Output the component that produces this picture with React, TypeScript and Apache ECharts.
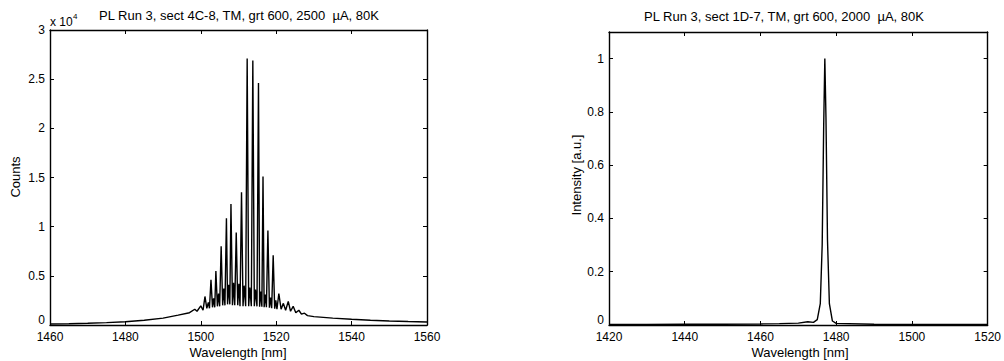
import React, { useEffect, useRef } from "react";
import * as echarts from "echarts";

// ---------- data ----------
const leftTitle = "PL Run 3, sect 4C-8, TM, grt 600, 2500  µA, 80K";
const rightTitle = "PL Run 3, sect 1D-7, TM, grt 600, 2000  µA, 80K";
const xName = "Wavelength [nm]";
const leftYName = "Counts";
const rightYName = "Intensity [a.u.]";

const leftWavelength = [
  1460, 1465, 1470, 1475, 1480, 1485, 1490, 1494, 1497, 1498.4, 1499.0, 1500.0,
  1500.6, 1501.1, 1501.6, 1502.0, 1502.3, 1502.7, 1503.1, 1503.4, 1503.7, 1504.0,
  1504.4, 1504.7, 1505.0, 1505.4, 1505.8, 1506.1, 1506.4, 1506.8, 1507.1, 1507.4,
  1507.7, 1508.0, 1508.4, 1508.7, 1509.0, 1509.4, 1509.8, 1510.1, 1510.4, 1510.8,
  1511.2, 1511.5, 1511.9, 1512.3, 1512.7, 1513.0, 1513.4, 1513.8, 1514.2, 1514.5,
  1514.9, 1515.3, 1515.6, 1515.9, 1516.2, 1516.5, 1516.8, 1517.1, 1517.4, 1517.8,
  1518.2, 1518.5, 1518.8, 1519.2, 1519.6, 1519.9, 1520.2, 1520.7, 1521.3, 1521.9,
  1522.5, 1523.2, 1523.8, 1524.5, 1525.2, 1526.0, 1526.7, 1527.5, 1528.3, 1530,
  1535, 1540, 1545, 1550, 1555, 1560,
];
const leftCounts = [
  100, 130, 180, 240, 330, 480, 700, 1000, 1250, 1600, 1400, 1950,
  1500, 2900, 1700, 2300, 1700, 4600, 1800, 2700, 1800, 5500,
  1900, 3200, 1900, 8000, 2000, 3700, 2000, 10850, 2100, 4100,
  2100, 12300, 2000, 4300, 2000, 9400, 2000, 4200, 1900, 13500,
  1900, 4000, 1900, 27100, 1900, 3800, 1900, 26900, 1900, 3600,
  1900, 24600, 1850, 3400, 1850, 15100, 1800, 3100, 1800, 9600,
  1750, 2800, 1700, 7100, 1650, 2500, 1600, 3200, 1600, 2200,
  1500, 2400, 1400, 1900, 1250, 1500, 1100, 1200, 950, 850,
  700, 580, 480, 410, 350, 300,
];

const rightWavelength = [
  1420, 1430, 1440, 1450, 1460, 1465, 1470, 1472.5, 1474, 1475, 1475.8, 1476.3,
  1476.7, 1477.0, 1477.3, 1477.7, 1478.2, 1479, 1480, 1490, 1500, 1510, 1520,
];
const rightIntensity = [
  0.002, 0.002, 0.003, 0.003, 0.004, 0.005, 0.007, 0.012, 0.01, 0.02, 0.08, 0.3,
  0.75, 1.0, 0.78, 0.32, 0.08, 0.015, 0.006, 0.003, 0.002, 0.002, 0.002,
];

const leftXRange = [1460, 1560];
const rightXRange = [1420, 1520];
const xTickStep = 20;
const leftYRange = [0, 30000];
const leftYStep = 5000;
const rightYRange = [0, 1.1];
const rightYStep = 0.2;

// ---------- chart ----------
const FONT = "'Liberation Sans', Arial, sans-serif";
const BLACK = "#000";

function makeX(gridIndex: number, range: number[], position: "top" | "bottom") {
  return {
    type: "value",
    gridIndex,
    min: range[0],
    max: range[1],
    interval: xTickStep,
    position,
    axisLine: { show: true, onZero: false, lineStyle: { color: BLACK, width: 1.4 } },
    axisTick: { show: true, inside: true, length: 4, lineStyle: { color: BLACK, width: 1 } },
    axisLabel: {
      show: position === "bottom",
      color: BLACK,
      fontFamily: FONT,
      fontSize: 12,
      lineHeight: 12,
      margin: 6,
      formatter: (v: number) => String(v),
    },
    splitLine: { show: false },
  };
}

function makeY(
  gridIndex: number,
  range: number[],
  step: number,
  position: "left" | "right",
  fmt: (v: number) => string
) {
  return {
    type: "value",
    gridIndex,
    min: range[0],
    max: range[1],
    interval: step,
    position,
    axisLine: { show: true, onZero: false, lineStyle: { color: BLACK, width: 1.4 } },
    axisTick: { show: true, inside: true, length: 4, lineStyle: { color: BLACK, width: 1 } },
    axisLabel: {
      show: position === "left",
      color: BLACK,
      fontFamily: FONT,
      fontSize: 12,
      lineHeight: 10,
      margin: 5,
      formatter: fmt,
      showMaxLabel: range[1] % step === 0,
      verticalAlignMinLabel: "bottom",
    },
    splitLine: { show: false },
  };
}

export default function App() {
  const ref = useRef<HTMLDivElement>(null);

  useEffect(() => {
    if (!ref.current) return;
    const chart = echarts.init(ref.current, null, { renderer: "svg" });

    const leftData = leftWavelength.map((w, i) => [w, leftCounts[i]]);
    const rightData = rightWavelength.map((w, i) => [w, rightIntensity[i]]);

    const txt = (extra: any) => ({
      type: "text",
      silent: true,
      style: {
        fill: BLACK,
        fontFamily: FONT,
        fontSize: 13,
        textAlign: "center",
        textVerticalAlign: "middle",
        ...extra.style,
      },
      ...extra.props,
    });

    chart.setOption({
      animation: false,
      backgroundColor: "#fff",
      grid: [
        { left: 50, top: 30, width: 377, height: 295 },
        { left: 609, top: 32, width: 379, height: 293 },
      ],
      xAxis: [
        makeX(0, leftXRange, "bottom"),
        makeX(0, leftXRange, "top"),
        makeX(1, rightXRange, "bottom"),
        makeX(1, rightXRange, "top"),
      ],
      yAxis: [
        makeY(0, leftYRange, leftYStep, "left", (v: number) => String(v / 10000)),
        makeY(0, leftYRange, leftYStep, "right", (v: number) => String(v / 10000)),
        makeY(1, rightYRange, rightYStep, "left", (v: number) => String(Math.round(v * 10) / 10)),
        makeY(1, rightYRange, rightYStep, "right", (v: number) => String(Math.round(v * 10) / 10)),
      ],
      series: [
        {
          type: "line",
          xAxisIndex: 0,
          yAxisIndex: 0,
          data: leftData,
          showSymbol: false,
          lineStyle: { color: BLACK, width: 1.4 },
        },
        {
          type: "line",
          xAxisIndex: 2,
          yAxisIndex: 2,
          data: rightData,
          showSymbol: false,
          lineStyle: { color: BLACK, width: 1.4 },
        },
      ],
      graphic: [
        txt({ props: { x: 239, y: 15 }, style: { text: leftTitle } }),
        txt({ props: { x: 784, y: 16 }, style: { text: rightTitle } }),
        txt({ props: { x: 50, y: 22 }, style: { text: "x 10", textAlign: "left", fontSize: 12 } }),
        txt({ props: { x: 73, y: 16 }, style: { text: "4", textAlign: "left", fontSize: 8 } }),
        txt({ props: { x: 15, y: 177, rotation: Math.PI / 2 }, style: { text: leftYName } }),
        txt({ props: { x: 576, y: 175, rotation: Math.PI / 2 }, style: { text: rightYName } }),
        txt({ props: { x: 238, y: 352 }, style: { text: xName } }),
        txt({ props: { x: 800, y: 352 }, style: { text: xName } }),
      ],
    });

    return () => chart.dispose();
  }, []);

  return (
    <div
      ref={ref}
      style={{ position: "fixed", left: 0, top: 0, width: 1004, height: 361, background: "#fff" }}
    />
  );
}
